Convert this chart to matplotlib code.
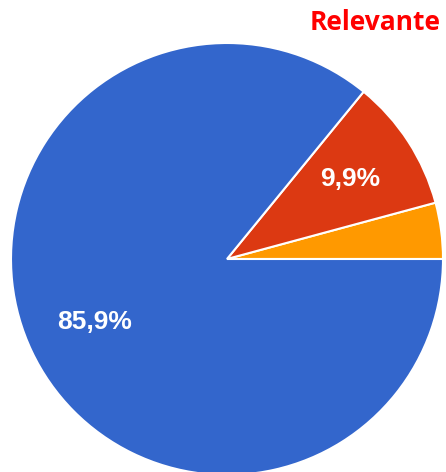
import matplotlib
matplotlib.use("Agg")
import matplotlib.pyplot as plt

categories = ["Naranja", "Relevante", "Azul"]
values = [4.2, 9.9, 85.9]
colors = ["#FF9900", "#DC3912", "#3366CC"]
title = "Relevante"

W, H = 446, 472
fig = plt.figure(figsize=(W / 100, H / 100), dpi=100)
cx, cy, r = 227, 259, 216
ax = fig.add_axes([(cx - r) / W, (H - cy - r) / H, 2 * r / W, 2 * r / H])

def fmt(p):
    return ("%.1f%%" % p).replace(".", ",") if p >= 5 else ""

wedges, texts, autotexts = ax.pie(
    values, colors=colors, startangle=0, counterclock=True,
    autopct=fmt, pctdistance=0.68, radius=1,
    wedgeprops=dict(edgecolor="white", linewidth=1.5),
    textprops=dict(color="white", fontsize=19, fontweight="bold",
                   family=["Liberation Sans", "DejaVu Sans"]),
)
for w in wedges:
    w.set_clip_on(False)
ax.set_xlim(-1, 1)
ax.set_ylim(-1, 1)
ax.set_aspect("equal")
ax.axis("off")

fig.text(441 / W, 1 - 22 / H, title, color="#FF0000", fontsize=19, fontweight="bold",
         ha="right", va="center", family=["Open Sans", "DejaVu Sans"])

fig.savefig("out.png", dpi=100, facecolor="white")
